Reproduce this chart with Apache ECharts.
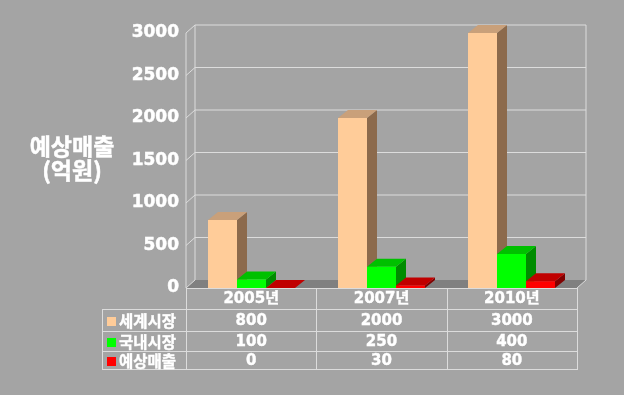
<!DOCTYPE html>
<html>
<head>
<meta charset="utf-8">
<script src="https://cdn.jsdelivr.net/npm/echarts@6/dist/echarts.min.js"></script>
<style>
html,body{margin:0;padding:0;background:#a4a4a4;}
#c{width:624px;height:395px;}
</style>
</head>
<body>
<div id="c"></div>
<script>
var categories = ['2005년', '2007년', '2010년'];
var seriesNames = ['세계시장', '국내시장', '예상매출'];
var worldMarket = [800, 2000, 3000];
var domesticMarket = [100, 250, 400];
var expectedSales = [0, 30, 80];
var yTicks = [0, 500, 1000, 1500, 2000, 2500, 3000];
var yTitle = '예상매출\n(억원)';

var seriesValues = [worldMarket, domesticMarket, expectedSales];
var faceColors = [
  {front: '#ffcc99', top: '#c9a07a', side: '#8c6a4c'},
  {front: '#00ff00', top: '#00c000', side: '#008c00'},
  {front: '#ff0000', top: '#c00000', side: '#800000'}
];

var GRID = {left: 186, right: 47, top: 33, bottom: 107};
var WDX = 9, WDY = -8;   // wall depth
var BDX = 10, BDY = -8;  // bar depth
var BAR_RATIO = 29 / 130.33;
var LINE = '#dcdcdc';
var FONT = "'DejaVu Sans', 'Noto Sans CJK KR', sans-serif";
var KFONT = "'Noto Sans CJK KR', sans-serif";

var chart = echarts.init(document.getElementById('c'), null, {renderer: 'canvas'});

function wallRender(params, api) {
  var v = api.value(1);
  var cs = params.coordSys;
  var y = api.coord([0, v])[1];
  var xl = cs.x, xr = cs.x + cs.width;
  var children = [];
  var ls = {stroke: LINE, lineWidth: 1};
  if (v === 0) {
    var yTop = cs.y;
    children.push({type: 'polygon', shape: {points: [[xl, y], [xr, y], [xr + WDX, y + WDY], [xl + WDX, y + WDY]]},
      style: {fill: '#808080'}});
    children.push({type: 'line', shape: {x1: xr, y1: y, x2: xr + WDX, y2: y + WDY}, style: ls});
    children.push({type: 'line', shape: {x1: xl + WDX, y1: yTop + WDY, x2: xl + WDX, y2: y + WDY}, style: ls});
    children.push({type: 'line', shape: {x1: xr + WDX, y1: yTop + WDY, x2: xr + WDX, y2: y + WDY}, style: ls});
    children.push({type: 'line', shape: {x1: xl, y1: yTop, x2: xl, y2: y}, style: ls});
  } else {
    children.push({type: 'line', shape: {x1: xl + WDX, y1: y + WDY, x2: xr + WDX, y2: y + WDY}, style: ls});
  }
  children.push({type: 'line', shape: {x1: xl, y1: y, x2: xl + WDX, y2: y + WDY}, style: ls});
  return {type: 'group', children: children};
}

function barRender(idx) {
  return function (params, api) {
    var cat = api.value(0), v = api.value(1);
    var base = api.coord([cat, 0]);
    var top = api.coord([cat, v]);
    var band = api.size([1, 0])[0];
    var bw = band * BAR_RATIO;
    var x0 = Math.round(base[0] - 1.5 * bw + idx * bw);
    var x1 = Math.round(base[0] - 1.5 * bw + (idx + 1) * bw);
    var yb = base[1], yt = top[1];
    var c = faceColors[idx];
    return {type: 'group', children: [
      {type: 'polygon', shape: {points: [[x1, yt], [x1 + BDX, yt + BDY], [x1 + BDX, yb + BDY], [x1, yb]]}, style: {fill: c.side}},
      {type: 'polygon', shape: {points: [[x0, yt], [x1, yt], [x1 + BDX, yt + BDY], [x0 + BDX, yt + BDY]]}, style: {fill: c.top}},
      {type: 'rect', shape: {x: x0, y: yt, width: x1 - x0, height: yb - yt}, style: {fill: c.front}}
    ]};
  };
}

var series = [{
  type: 'custom', name: 'wall', renderItem: wallRender, z: 1, silent: true,
  data: yTicks.map(function (t) { return [0, t]; })
}];
seriesValues.forEach(function (vals, i) {
  series.push({
    type: 'custom', name: seriesNames[i], renderItem: barRender(i), z: 2 + i, silent: true,
    data: vals.map(function (v, j) { return [j, v]; })
  });
});

chart.setOption({
  backgroundColor: '#a4a4a4',
  animation: false,
  grid: {left: GRID.left, right: GRID.right, top: GRID.top, bottom: GRID.bottom, containLabel: false},
  xAxis: {type: 'category', data: categories, axisLine: {show: false}, axisTick: {show: false},
    axisLabel: {show: false}, splitLine: {show: false}},
  yAxis: {type: 'value', min: 0, max: 3000, interval: 500,
    axisLine: {show: false}, axisTick: {show: false}, splitLine: {show: false},
    axisLabel: {color: '#ffffff', fontFamily: FONT, fontWeight: 'bold', fontSize: 17, margin: 7,
      textBorderColor: '#ffffff', textBorderWidth: 0.5,
      formatter: function (v) { return String(v); }}},
  series: series
});

// Data table below the chart
var W = 624, H = 395;
var tableLeft = 102;
var gx0 = GRID.left, gx1 = W - GRID.right;
var yHeadTop = H - GRID.bottom;
var rowLines = [yHeadTop, 309, 331, 351, 369];
var colW = (gx1 - gx0) / categories.length;
var g = [];
var ls = {stroke: LINE, lineWidth: 1};
function hl(x1, x2, y) { g.push({type: 'line', shape: {x1: x1, y1: y + 0.5, x2: x2, y2: y + 0.5}, style: ls, z: 100}); }
function vl(x, y1, y2) { g.push({type: 'line', shape: {x1: Math.round(x) + 0.5, y1: y1, x2: Math.round(x) + 0.5, y2: y2}, style: ls, z: 100}); }
hl(gx0, gx1, rowLines[0]);
for (var r = 1; r < rowLines.length; r++) hl(tableLeft, gx1, rowLines[r]);
for (var k = 0; k <= categories.length; k++) vl(gx0 + k * colW, rowLines[0], rowLines[4] + 1);
vl(tableLeft, rowLines[1], rowLines[4] + 1);

var txt = function (x, y, s, align, font, bw) {
  g.push({type: 'text', x: x, y: y, z: 101, style: {text: s, fill: '#ffffff', font: font || ('bold 15px ' + FONT),
    textAlign: align || 'center', textVerticalAlign: 'middle',
    stroke: '#ffffff', lineWidth: bw || 0.4}});
};
categories.forEach(function (c, j) { txt(gx0 + (j + 0.5) * colW, (rowLines[0] + rowLines[1]) / 2 + 1, c); });
seriesValues.forEach(function (vals, i) {
  var yc = (rowLines[i + 1] + rowLines[i + 2]) / 2 + 1;
  g.push({type: 'rect', shape: {x: 107, y: Math.round(yc - 4.5), width: 9, height: 9}, style: {fill: faceColors[i].front}, z: 101});
  txt(119, yc, seriesNames[i], 'left', 'bold 15.5px ' + KFONT, 0.4);
  vals.forEach(function (v, j) { txt(gx0 + (j + 0.5) * colW, yc, String(v)); });
});
g.push({type: 'text', x: 72, y: 158, z: 101, style: {text: yTitle, fill: '#ffffff', font: 'bold 23px ' + KFONT,
  textAlign: 'center', textVerticalAlign: 'middle', lineHeight: 24, stroke: '#ffffff', lineWidth: 0.5}});

chart.setOption({graphic: {elements: g}});
</script>
</body>
</html>
